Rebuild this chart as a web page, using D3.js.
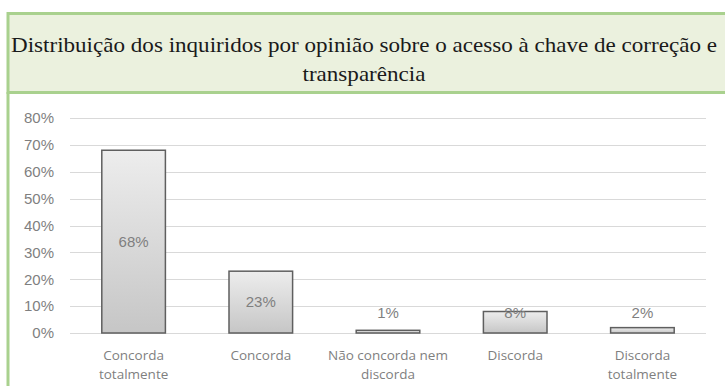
<!DOCTYPE html>
<html>
<head>
<meta charset="utf-8">
<script src="https://cdn.jsdelivr.net/npm/d3@7"></script>
<style>
  html, body { margin: 0; padding: 0; background: #fff; }
  svg { display: block; }
</style>
</head>
<body>
<svg id="chart" width="725" height="392"></svg>
<script>
// Survey answers and their shares
const categories = [
  ["Concorda", "totalmente"],
  ["Concorda"],
  ["Não concorda nem", "discorda"],
  ["Discorda"],
  ["Discorda", "totalmente"]
];
const values = [0.68, 0.23, 0.01, 0.08, 0.02];
const yTicks = [0, 0.1, 0.2, 0.3, 0.4, 0.5, 0.6, 0.7, 0.8];
const titleLines = [
  "Distribuição dos inquiridos por opinião sobre o acesso à chave de correção e",
  "transparência"
];

const svg = d3.select("#chart");
const green = "#a9d18e";

// Header band and frame
svg.append("rect")
  .attr("x", 8).attr("y", 13.5).attr("width", 730).attr("height", 79)
  .attr("fill", "#ebf1de").attr("stroke", green).attr("stroke-width", 3);
svg.append("line")
  .attr("x1", 8).attr("x2", 8).attr("y1", 92).attr("y2", 386)
  .attr("stroke", green).attr("stroke-width", 3);

const title = svg.append("text")
  .attr("text-anchor", "middle")
  .attr("font-family", "'Liberation Serif', 'DejaVu Serif', serif")
  .attr("font-size", 21)
  .attr("fill", "#1a1a1a");
const tl = title.selectAll("tspan").data(titleLines).join("tspan")
  .attr("x", 364).attr("y", (d, i) => 52 + i * 29)
  .text(d => d);
// Condense the title so the first line spans the header width
const firstLen = tl.nodes()[0].getComputedTextLength();
const squeeze = 706 / firstLen;
tl.each(function () {
  const len = this.getComputedTextLength();
  d3.select(this).attr("textLength", len * squeeze).attr("lengthAdjust", "spacingAndGlyphs");
});

// Plot area
const margin = { left: 70, right: 19 };
const x = d3.scaleBand()
  .domain(d3.range(values.length))
  .range([margin.left, 725 - margin.right])
  .paddingInner(0.5).paddingOuter(0.25);
const y = d3.scaleLinear().domain([0, 0.8]).range([333, 118]);

// Gridlines
svg.append("g").selectAll("line").data(yTicks).join("line")
  .attr("x1", margin.left).attr("x2", 725 - margin.right)
  .attr("y1", d => Math.round(y(d)) + 0.5).attr("y2", d => Math.round(y(d)) + 0.5)
  .attr("stroke", "#d9d9d9").attr("stroke-width", 1);

// Y axis labels
const yAxis = d3.axisLeft(y).tickValues(yTicks).tickFormat(d3.format(".0%")).tickSize(0).tickPadding(0);
const gy = svg.append("g").attr("transform", "translate(54,0)").call(yAxis);
gy.select(".domain").remove();
gy.selectAll("text")
  .attr("font-family", "'Liberation Sans', Arial, sans-serif")
  .attr("font-size", 15).attr("fill", "#7f7f7f");

// Bar gradient
const defs = svg.append("defs");
const grad = defs.append("linearGradient").attr("id", "barFill")
  .attr("x1", 0).attr("x2", 0).attr("y1", 0).attr("y2", 1);
grad.append("stop").attr("offset", "0%").attr("stop-color", "#ededed");
grad.append("stop").attr("offset", "100%").attr("stop-color", "#c6c6c6");

// Bars
svg.append("g").selectAll("rect").data(values).join("rect")
  .attr("x", (d, i) => x(i))
  .attr("y", d => y(d))
  .attr("width", x.bandwidth())
  .attr("height", d => y(0) - y(d))
  .attr("fill", "url(#barFill)")
  .attr("stroke", "#5f5f5f").attr("stroke-width", 1.5);

// Value labels
svg.append("g").selectAll("text").data(values).join("text")
  .attr("x", (d, i) => x(i) + x.bandwidth() / 2)
  .attr("y", d => Math.min((y(d) + y(0)) / 2, y(0) - 20))
  .attr("dy", "0.35em")
  .attr("text-anchor", "middle")
  .attr("font-family", "'Liberation Sans', Arial, sans-serif")
  .attr("font-size", 15).attr("fill", "#7f7f7f")
  .text(d => d3.format(".0%")(d));

// Category labels
const cat = svg.append("g").selectAll("text").data(categories).join("text")
  .attr("text-anchor", "middle")
  .attr("font-family", "'Open Sans', 'Noto Sans', sans-serif")
  .attr("font-size", 13.5).attr("fill", "#7f7f7f");
cat.selectAll("tspan").data((d, i) => d.map(t => ({ t, i }))).join("tspan")
  .attr("x", d => x(d.i) + x.bandwidth() / 2)
  .attr("y", (d, j) => 360 + j * 19)
  .text(d => d.t);
</script>
</body>
</html>
